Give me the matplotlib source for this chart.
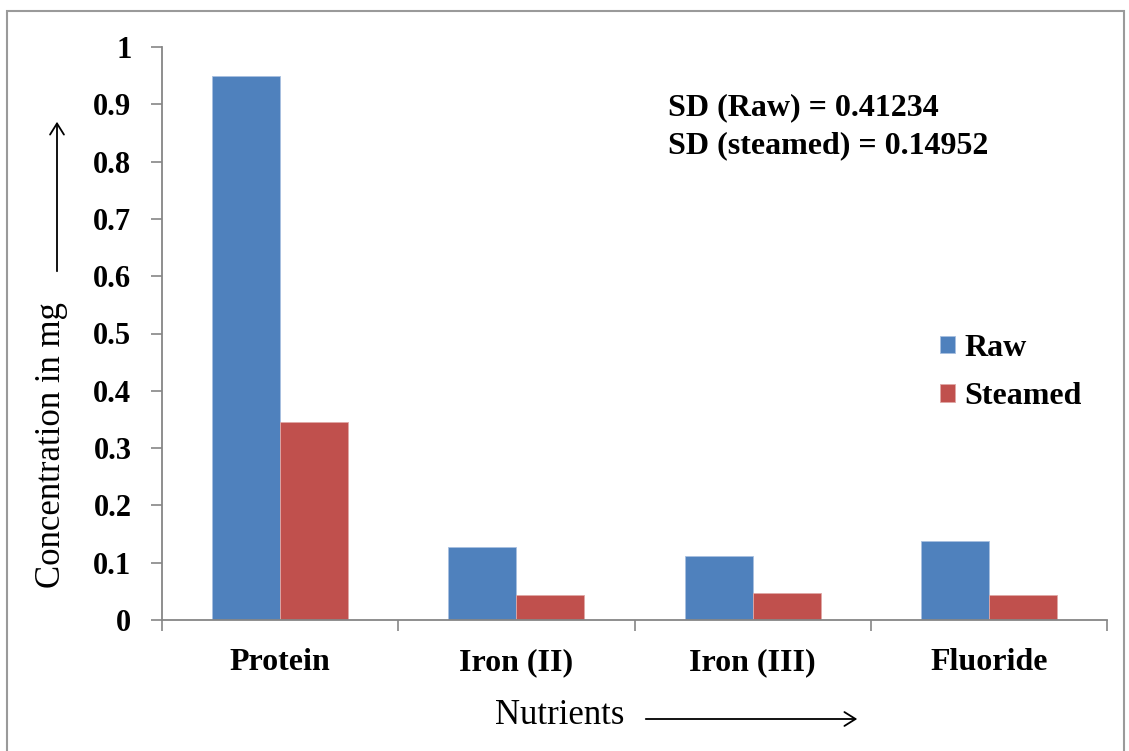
import matplotlib
matplotlib.use("Agg")
import matplotlib.pyplot as plt
from matplotlib.patches import Rectangle, FancyArrowPatch
import numpy as np

categories = ["Protein", "Iron (II)", "Iron (III)", "Fluoride"]
raw = [0.95, 0.128, 0.111, 0.138]
steamed = [0.345, 0.044, 0.047, 0.043]
series_names = ["Raw", "Steamed"]
yticks = [0, 0.1, 0.2, 0.3, 0.4, 0.5, 0.6, 0.7, 0.8, 0.9, 1]
ytick_labels = ["0", "0.1", "0.2", "0.3", "0.4", "0.5", "0.6", "0.7", "0.8", "0.9", "1"]
sd_text = "SD (Raw) = 0.41234\nSD (steamed) = 0.14952"

plt.rcParams['font.family'] = ['Liberation Serif', 'DejaVu Serif']

W, H = 1129, 751
fig = plt.figure(figsize=(W / 100, H / 100), dpi=100)
fig.patch.set_facecolor('white')

# outer border
fig.add_artist(Rectangle((7 / W, -0.01), (1124 - 7) / W, 1 - 11 / H + 0.01,
                         transform=fig.transFigure, fill=False,
                         edgecolor='#9a9a9a', linewidth=1.5))

ax = fig.add_axes([162 / W, 1 - 620 / H, (1107 - 162) / W, (620 - 47) / H])
x = np.arange(len(categories))
bw = 0.288
gray = '#868686'
ax.bar(x - bw / 2, raw, bw, color='#4F81BD', edgecolor='#a8c0e0', linewidth=0.6, label=series_names[0])
ax.bar(x + bw / 2, steamed, bw, color='#C0504D', edgecolor='#e0a8a6', linewidth=0.6, label=series_names[1])

ax.set_xlim(-0.5, len(categories) - 0.5)
ax.set_ylim(0, 1)
ax.set_yticks(yticks)
ax.set_yticklabels(ytick_labels, fontsize=22, fontweight='bold')
ax.set_xticks(x)
ax.set_xticklabels(categories, fontsize=23, fontweight='bold')
ax.set_xticks(np.arange(-0.5, len(categories), 1), minor=True)
ax.tick_params(axis='x', which='major', length=0, pad=20)
ax.tick_params(axis='x', which='minor', length=8, color=gray, width=1.2, direction='out')
ax.tick_params(axis='y', length=8, color=gray, width=1.2, pad=14)
for s in ['top', 'right']:
    ax.spines[s].set_visible(False)
for s in ['left', 'bottom']:
    ax.spines[s].set_color(gray)
    ax.spines[s].set_linewidth(1.3)

# SD annotation
fig.text(668 / W, 1 - 127 / H, sd_text, fontsize=23, fontweight='bold',
         ha='left', va='center', linespacing=1.4)

# legend
leg = ax.legend(loc='upper left', bbox_to_anchor=((940 - 162) / (1107 - 162), 1 - (334 - 47) / (620 - 47)),
                frameon=False, prop={'weight': 'bold', 'size': 23},
                handlelength=0.47, handleheight=0.47, handletextpad=0.3,
                labelspacing=0.6, borderaxespad=0, borderpad=0)

# axis labels
fig.text(52 / W, 1 - 445 / H, "Concentration in mg", fontsize=25, rotation=90,
         ha='center', va='center')
fig.text(560 / W, 1 - 716 / H, "Nutrients", fontsize=25, ha='center', va='center')

# arrows
fig.add_artist(FancyArrowPatch((57 / W, 1 - 274 / H), (57 / W, 1 - 119 / H),
               transform=fig.transFigure, arrowstyle='->,head_length=8,head_width=5',
               color='black', linewidth=1.3, mutation_scale=1))
fig.add_artist(FancyArrowPatch((643 / W, 1 - 719 / H), (860 / W, 1 - 719 / H),
               transform=fig.transFigure, arrowstyle='->,head_length=8,head_width=5',
               color='black', linewidth=1.3, mutation_scale=1))

fig.savefig("out.png", dpi=100)
